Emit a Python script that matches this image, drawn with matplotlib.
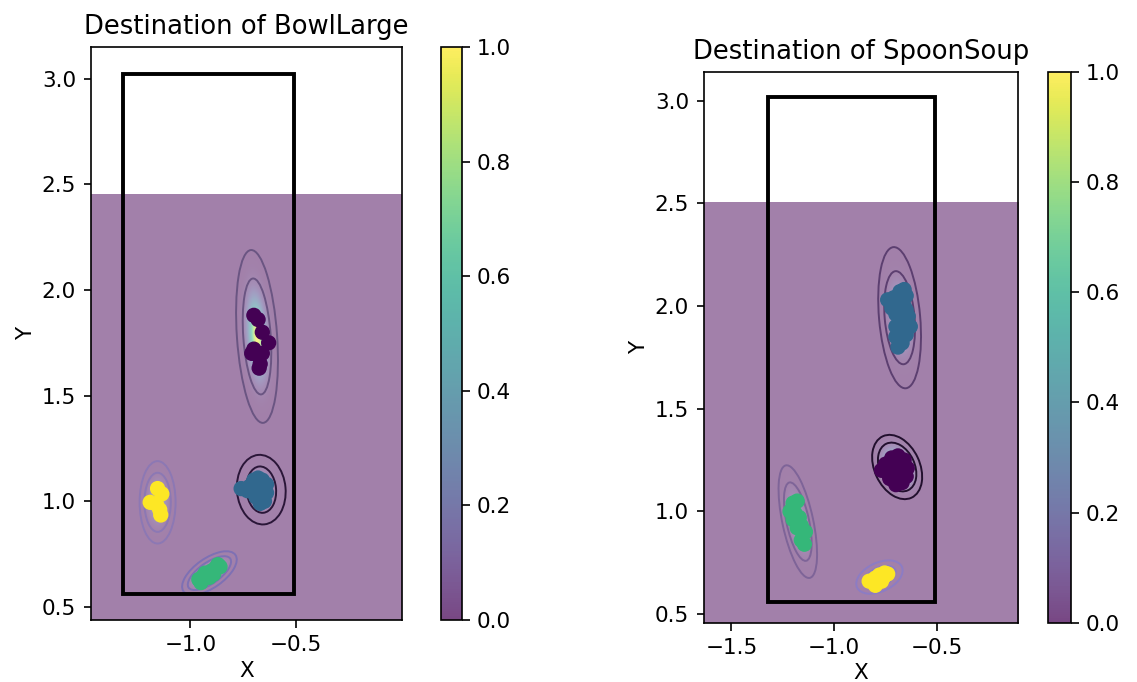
import numpy as np
import matplotlib
matplotlib.use("Agg")
import matplotlib.pyplot as plt
from matplotlib.patches import Ellipse, Rectangle

# reference was rendered small and scaled up ~1.55x
plt.rcParams["font.size"] = 15.5
plt.rcParams["axes.titlesize"] = 18.6
plt.rcParams["axes.labelsize"] = 15.5
plt.rcParams["axes.linewidth"] = 1.2
for k in ["xtick", "ytick"]:
    plt.rcParams[k + ".major.size"] = 5.4
    plt.rcParams[k + ".major.width"] = 1.2
    plt.rcParams[k + ".major.pad"] = 5.4
plt.rcParams["axes.titlepad"] = 9

# * Data

titles = ["Destination of BowlLarge", "Destination of SpoonSoup"]

# region box (same for both objects)
box_x = [-1.32, -0.51]
box_y = [0.56, 3.02]

# density grid extents
grid_x = [(-1.47, 0.0), (-1.633, -0.106)]
grid_y = [(0.438, 2.45), (0.458, 2.505)]
top_y = [3.15, 3.14]

# cluster points: label value in [0, 1] -> viridis
bowl_pts = {
    0.0: ([-0.70, -0.68, -0.66, -0.63, -0.70, -0.68, -0.67, -0.71, -0.66, -0.675],
          [1.88, 1.86, 1.80, 1.75, 1.72, 1.69, 1.65, 1.70, 1.70, 1.63]),
    1 / 3: ([-0.76, -0.72, -0.70, -0.68, -0.66, -0.64, -0.64, -0.65, -0.67, -0.69, -0.70, -0.67, -0.66, -0.73, -0.69],
            [1.06, 1.07, 1.10, 1.11, 1.10, 1.08, 1.04, 1.00, 0.99, 1.02, 1.05, 1.05, 1.02, 1.05, 1.08]),
    2 / 3: ([-0.96, -0.94, -0.92, -0.90, -0.88, -0.87, -0.95, -0.91, -0.89, -0.93, -0.86],
            [0.63, 0.645, 0.655, 0.67, 0.685, 0.70, 0.615, 0.64, 0.655, 0.66, 0.69]),
    1.0: ([-1.155, -1.135, -1.19, -1.16, -1.14, -1.145],
          [1.06, 1.035, 0.995, 0.985, 0.935, 0.96]),
}
spoon_pts = {
    1 / 3: ([-0.74, -0.71, -0.68, -0.66, -0.65, -0.66, -0.64, -0.63, -0.65, -0.67, -0.69, -0.70, -0.70, -0.70, -0.69, -0.67, -0.67, -0.72, -0.65],
            [2.03, 2.04, 2.07, 2.08, 2.05, 2.00, 1.95, 1.90, 1.86, 1.82, 1.80, 1.85, 1.90, 1.96, 2.00, 1.93, 1.88, 1.99, 1.98]),
    0.0: ([-0.77, -0.75, -0.72, -0.69, -0.66, -0.645, -0.65, -0.67, -0.70, -0.73, -0.70, -0.68, -0.72, -0.67],
          [1.20, 1.23, 1.26, 1.27, 1.25, 1.21, 1.17, 1.14, 1.13, 1.16, 1.20, 1.22, 1.21, 1.19]),
    2 / 3: ([-1.20, -1.18, -1.215, -1.19, -1.17, -1.16, -1.18, -1.15, -1.16, -1.145, -1.20, -1.14],
            [1.04, 1.05, 1.00, 0.99, 0.97, 0.93, 0.92, 0.89, 0.86, 0.84, 0.96, 0.90]),
    1.0: ([-0.83, -0.80, -0.78, -0.755, -0.74, -0.77, -0.80, -0.76],
          [0.66, 0.675, 0.69, 0.70, 0.695, 0.66, 0.64, 0.68]),
}
points = [bowl_pts, spoon_pts]

# mixture components: center x, center y, outer w, outer h, inner w, inner h, angle, weight, line colour
bowl_comp = [
    (-0.685, 1.78, 0.19, 0.82, 0.13, 0.55, 4, 1.0, "#6a5582"),
    (-0.665, 1.055, 0.23, 0.33, 0.14, 0.22, 5, 0.45, "#2a1638"),
    (-1.155, 0.995, 0.17, 0.39, 0.125, 0.28, 0, 0.3, "#8c78b4"),
    (-0.91, 0.66, 0.30, 0.14, 0.24, 0.10, 35, 0.35, "#7e70b4"),
]
spoon_comp = [
    (-0.682, 1.943, 0.20, 0.69, 0.145, 0.455, 5, 0.45, "#5c3f70"),
    (-0.694, 1.216, 0.22, 0.33, 0.17, 0.25, 25, 1.0, "#22102e"),
    (-1.177, 0.95, 0.15, 0.56, 0.11, 0.39, 12, 0.3, "#7e6498"),
    (-0.78, 0.68, 0.24, 0.14, 0.17, 0.09, 25, 0.3, "#8c7cc4"),
]
components = [bowl_comp, spoon_comp]


def density(X, Y, comps):
    Z = np.zeros_like(X)
    for cx, cy, ow, oh, iw, ih, ang, w, col in comps:
        t = np.deg2rad(ang)
        dx, dy = X - cx, Y - cy
        u = dx * np.cos(t) + dy * np.sin(t)
        v = -dx * np.sin(t) + dy * np.cos(t)
        su, sv = iw / 5, ih / 5
        Z += w * np.exp(-0.5 * ((u / su) ** 2 + (v / sv) ** 2))
    return Z / Z.max()


# * Plot
fig = plt.figure(figsize=(11.37, 6.82), dpi=100)
ax_pos = [[0.080, 0.0909, 0.2735, 0.8402], [0.6192, 0.0870, 0.2762, 0.8076]]
cb_pos = [[0.3879, 0.0909, 0.0185, 0.8402], [0.9217, 0.0870, 0.0202, 0.8076]]

for i in range(2):
    ax = fig.add_axes(ax_pos[i])
    cax = fig.add_axes(cb_pos[i])

    gx = np.linspace(grid_x[i][0], grid_x[i][1], 400)
    gy = np.linspace(grid_y[i][0], grid_y[i][1], 500)
    X, Y = np.meshgrid(gx, gy)
    Z = density(X, Y, components[i])
    img = ax.imshow(Z, cmap="viridis", vmin=0, vmax=1, alpha=0.5, origin="lower",
                    extent=[grid_x[i][0], grid_x[i][1], grid_y[i][0], grid_y[i][1]],
                    aspect="auto", interpolation="bilinear")

    for cx, cy, ow, oh, iw, ih, ang, w, col in components[i]:
        ax.add_patch(Ellipse((cx, cy), ow, oh, angle=ang, fill=False, ec=col, lw=1.4))
        ax.add_patch(Ellipse((cx, cy), iw, ih, angle=ang, fill=False, ec=col, lw=1.4))

    for val, (xs, ys) in points[i].items():
        ax.scatter(xs, ys, c=[val] * len(xs), cmap="viridis", vmin=0, vmax=1, s=100, zorder=3)

    ax.add_patch(Rectangle((box_x[0], box_y[0]), box_x[1] - box_x[0], box_y[1] - box_y[0],
                           fill=False, ec="black", lw=2.8, zorder=4))

    ax.set_xlim(grid_x[i])
    ax.set_ylim(grid_y[i][0], top_y[i])
    ax.set_xticks([-1.5, -1.0, -0.5] if i == 1 else [-1.0, -0.5])
    ax.set_yticks([0.5, 1.0, 1.5, 2.0, 2.5, 3.0])
    ax.set_title(titles[i])
    ax.set_xlabel("X")
    ax.set_ylabel("Y")

    cb = fig.colorbar(img, cax=cax)
    cb.solids.set_alpha(0.72)
    cb.outline.set_linewidth(1.2)
    cb.set_ticks([0.0, 0.2, 0.4, 0.6, 0.8, 1.0])

plt.savefig("out.png")
